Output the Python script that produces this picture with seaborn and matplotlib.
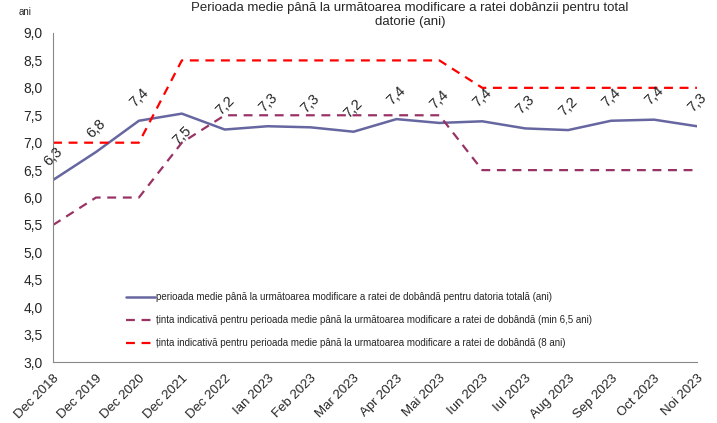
import numpy as np
import pandas as pd
import seaborn as sns
import matplotlib.pyplot as plt

# data
periods = ["Dec 2018", "Dec 2019", "Dec 2020", "Dec 2021", "Dec 2022", "Ian 2023", "Feb 2023",
           "Mar 2023", "Apr 2023", "Mai 2023", "Iun 2023", "Iul 2023", "Aug 2023", "Sep 2023",
           "Oct 2023", "Noi 2023"]
avg_period = [6.32, 6.83, 7.40, 7.53, 7.24, 7.30, 7.28, 7.20, 7.43, 7.36, 7.39, 7.26, 7.23, 7.40, 7.42, 7.30]
target_min = [5.5, 6.0, 6.0, 7.0, 7.5, 7.5, 7.5, 7.5, 7.5, 7.5, 6.5, 6.5, 6.5, 6.5, 6.5, 6.5]
target_8 = [7.0, 7.0, 7.0, 8.5, 8.5, 8.5, 8.5, 8.5, 8.5, 8.5, 8.0, 8.0, 8.0, 8.0, 8.0, 8.0]

lbl_avg = "perioada medie până la următoarea modificare a ratei de dobândă pentru datoria totală (ani)"
lbl_min = "ținta indicativă pentru perioada medie până la următoarea modificare a ratei de dobândă (min 6,5 ani)"
lbl_8 = "ținta indicativă pentru perioada medie până la urmatoarea modificare a ratei de dobândă (8 ani)"

sns.set_style("white")
plt.rcParams['font.family'] = ['Liberation Sans', 'DejaVu Sans']

x = np.arange(len(periods))
df = pd.DataFrame({"x": x, "avg": avg_period, "min": target_min, "t8": target_8})

fig = plt.figure(figsize=(7.17, 4.23), dpi=100)
ax = fig.add_axes([0.074, 0.144, 0.898, 0.778])

sns.lineplot(data=df, x="x", y="avg", ax=ax, color="#6666a0", linewidth=1.8, label=lbl_avg)
sns.lineplot(data=df, x="x", y="min", ax=ax, color="#993366", linewidth=1.6, label=lbl_min)
sns.lineplot(data=df, x="x", y="t8", ax=ax, color="#ff0000", linewidth=1.6, label=lbl_8)
ax.lines[1].set_dashes([4, 3])
ax.lines[2].set_dashes([4, 3])

# data labels, rotated like the original
for i, v in enumerate(avg_period):
    dy = -16 if i == 3 else 17
    ax.annotate(f"{v:.1f}".replace(".", ","), (i, v), xytext=(0, dy), textcoords="offset points",
                ha="center", va="center", rotation=45, fontsize=10.5)

ax.set_xlim(0, len(periods) - 1)
ax.set_ylim(3.0, 9.0)
ax.set_yticks(np.arange(3.0, 9.01, 0.5))
ax.set_yticklabels([f"{t:.1f}".replace(".", ",") for t in np.arange(3.0, 9.01, 0.5)], fontsize=10)
ax.set_xticks(x)
ax.set_xticklabels(periods, rotation=45, ha="right", rotation_mode="anchor", fontsize=9.5)
ax.tick_params(axis="both", direction="out", length=4, color="#888888", width=0.8)
ax.set_xlabel("")
ax.set_ylabel("")
for s in ["top", "right"]:
    ax.spines[s].set_visible(False)
for s in ["left", "bottom"]:
    ax.spines[s].set_color("#888888")
    ax.spines[s].set_linewidth(0.8)

ax.legend(loc="lower left", bbox_to_anchor=(0.1, 0.015), frameon=False, fontsize=7,
          handlelength=3, handletextpad=0.1, labelspacing=1.35)

fig.text(25 / 717, 1 - 12 / 423, "ani", fontsize=7, ha="center", va="center")
fig.text(410 / 717, 1 - 15 / 423, "Perioada medie până la următoarea modificare a ratei dobânzii pentru total\ndatorie (ani)",
         ha="center", va="center", fontsize=9.5, linespacing=1.2)

fig.savefig("out.png", dpi=100)
